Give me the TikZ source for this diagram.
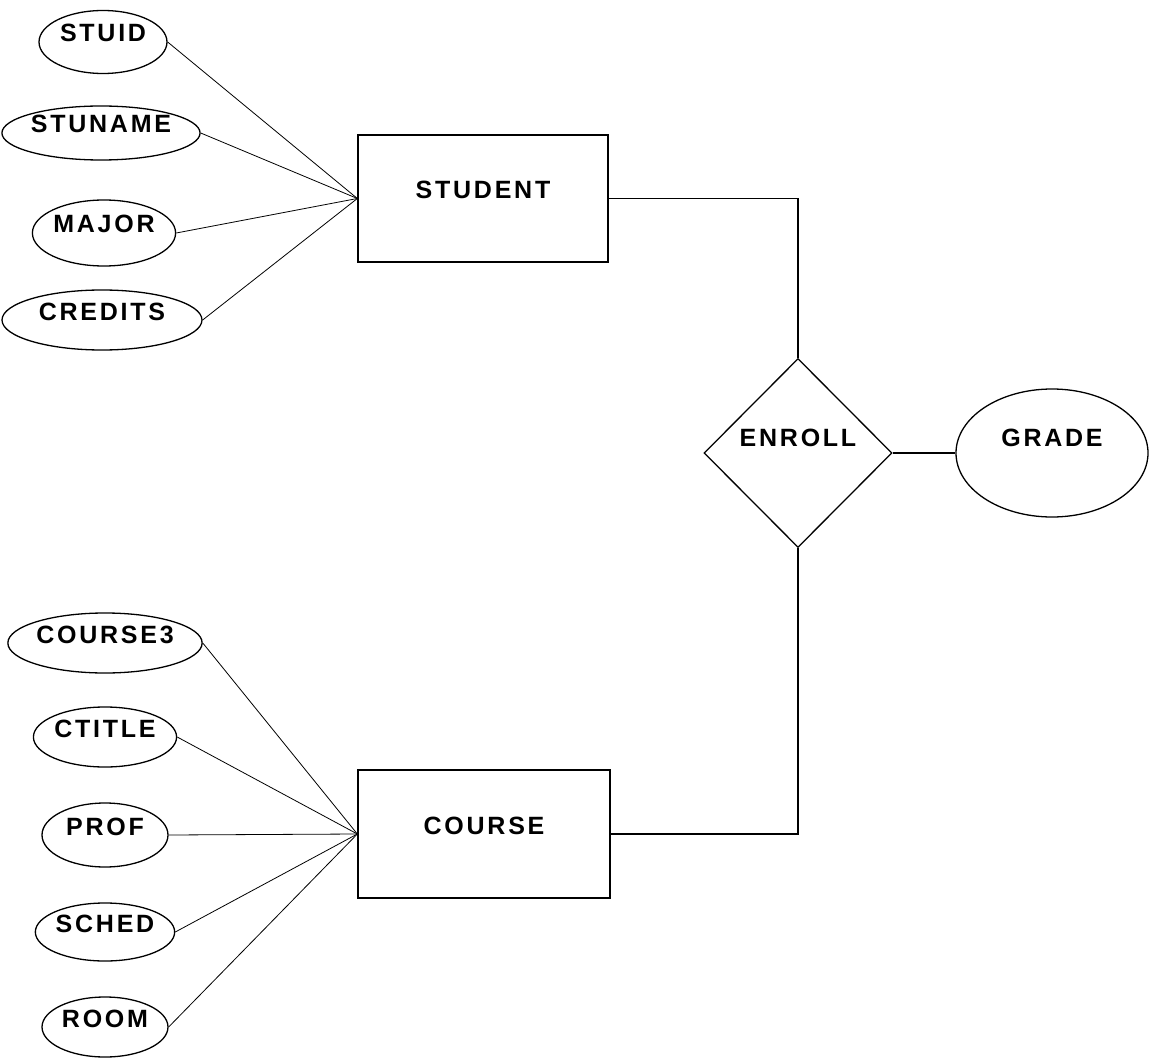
\documentclass[tikz,border=0pt]{standalone}
\usepackage{fontspec}
\setmainfont{Liberation Sans}[LetterSpace=11, BoldFont={Liberation Sans Bold}, BoldFeatures={LetterSpace=11}]
\usetikzlibrary{shapes.geometric}

\tikzset{
  ertext/.style={font=\fontsize{25}{30}\selectfont\bfseries, inner sep=0pt,
                 text height=15pt, text depth=15pt},
  attr/.style={ertext, ellipse, draw, line width=1.3pt},
  entity/.style={ertext, rectangle, draw, line width=1.3pt},
  relation/.style={ertext, diamond, draw, line width=1.3pt},
  fan/.style={line width=0.8pt},
  link/.style={line width=1.2pt},
}

\begin{document}
\begin{tikzpicture}[x=1pt, y=-1pt]
  \useasboundingbox (0,0) rectangle (1159,1059);

  % entities and relationship
  \node[entity, minimum width=250pt, minimum height=127pt] (student) at (483,198.5) {STUDENT};
  \node[entity, minimum width=252pt, minimum height=128pt] (course) at (484,834) {COURSE};
  \node[relation, minimum width=188pt, minimum height=189pt, text depth=29pt] (enroll) at (798,453) {ENROLL};
  \node[attr, minimum width=192pt, minimum height=128pt, text depth=29pt] (grade) at (1052,453) {GRADE};

  % student attributes
  \node[attr, minimum width=128pt, minimum height=63pt] (stuid)   at (103,42)  {STUID};
  \node[attr, minimum width=198pt, minimum height=54pt] (stuname) at (101,133) {STUNAME};
  \node[attr, minimum width=126pt, minimum height=66pt] (major)   at (104,233) {MAJOR};
  \node[attr, minimum width=200pt, minimum height=60pt] (credits) at (102,320) {CREDITS};

  % course attributes
  \node[attr, minimum width=194pt, minimum height=60pt] (course3) at (105,643)  {COURSE3};
  \node[attr, minimum width=126pt, minimum height=60pt] (ctitle)  at (105,737)  {CTITLE};
  \node[attr, minimum width=126pt, minimum height=64pt] (prof)    at (105,835)  {PROF};
  \node[attr, minimum width=126pt, minimum height=58pt] (sched)   at (105,932)  {SCHED};
  \node[attr, minimum width=126pt, minimum height=60pt] (room)    at (105,1027) {ROOM};

  % attribute connectors
  \foreach \a in {stuid,stuname,major,credits}
    \draw[fan] (\a.east) -- (student.west);
  \foreach \a in {course3,ctitle,prof,sched,room}
    \draw[fan] (\a.east) -- (course.west);

  % relationship connectors
  \draw[link] (student.east) -| (enroll.north);
  \draw[link] (course.east) -| (enroll.south);
  \draw[link] (enroll.east) -- (grade.west);
\end{tikzpicture}
\end{document}
